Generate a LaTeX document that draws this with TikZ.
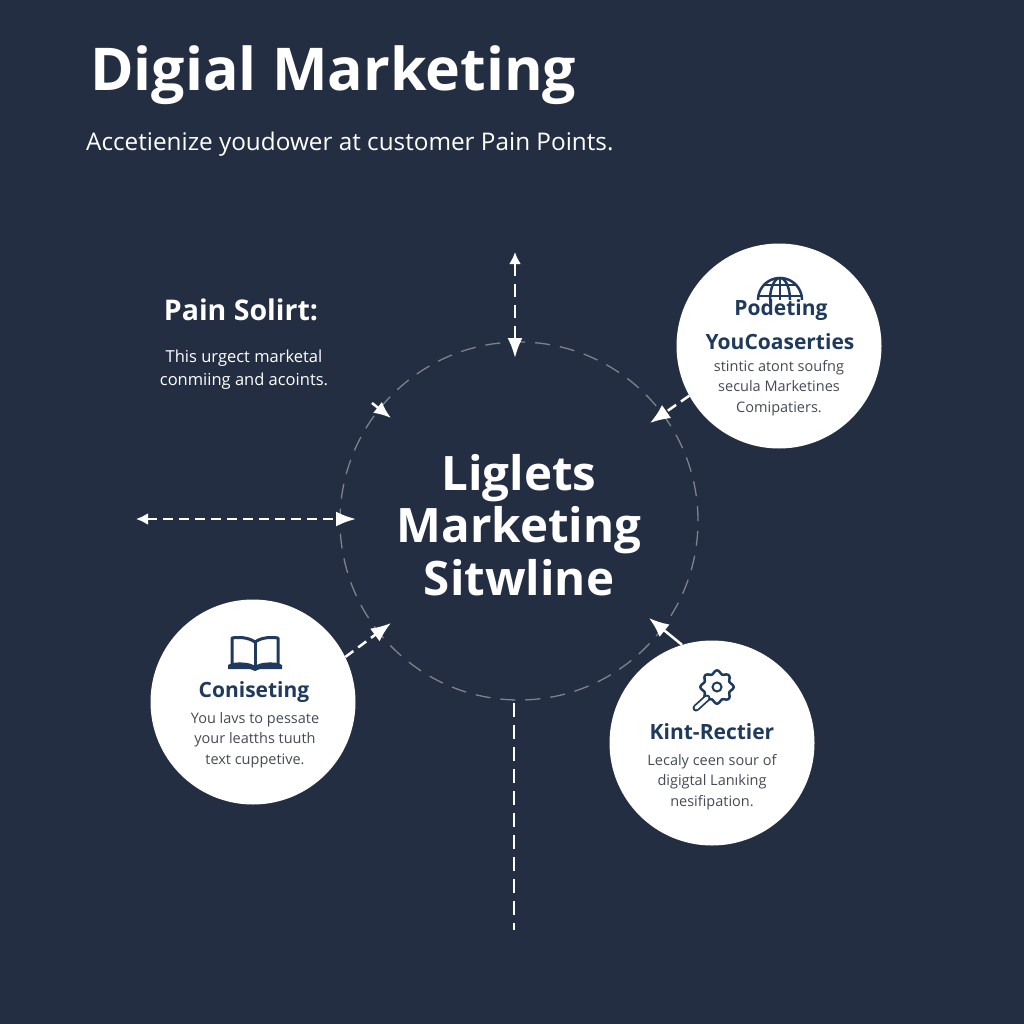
\documentclass[tikz,border=0pt]{standalone}
\usepackage{fontspec}
\setmainfont{Open Sans}
\usetikzlibrary{arrows.meta}
\definecolor{bgcol}{HTML}{242E42}
\definecolor{navycol}{HTML}{1F3A5C}
\definecolor{ringcol}{HTML}{7C828E}
\definecolor{bodycol}{HTML}{454B55}
\tikzset{
  bubble/.style={circle,fill=white,minimum size=205pt,inner sep=0pt},
  bubblehead/.style={text=navycol,font=\bfseries\fontsize{21}{26}\selectfont,inner sep=0pt},
  bubblebody/.style={text=bodycol,font=\fontsize{14.5}{20.5}\selectfont,align=center,inner sep=0pt},
  iconline/.style={draw=navycol,line width=2.5pt,line join=round},
  flowline/.style={draw=white,line width=2.5pt,dash pattern=on 10pt off 6pt,-{Latex[length=20pt,width=16pt]}},
  flowboth/.style={flowline,{Latex[length=12pt,width=12pt]}-{Latex[length=20pt,width=15pt]}}
}
\begin{document}
\begin{tikzpicture}[x=1pt,y=-1pt]
\fill[bgcol] (0,0) rectangle (1024,1024);
\useasboundingbox (0,0) rectangle (1024,1024);

\node[text=white,font=\bfseries\fontsize{59}{64}\selectfont,anchor=west,inner sep=0pt] (title) at (90,75) {Digial Marketing};
\node[text=white,font=\fontsize{24.3}{30}\selectfont,anchor=west,inner sep=0pt] (subtitle) at (86,144) {Accetienize youdower at customer Pain Points.};

\node[circle,draw=ringcol,line width=1.3pt,dash pattern=on 15pt off 10pt,minimum size=358pt,inner sep=0pt] (ring) at (519,521) {};
\node[text=white,font=\bfseries\fontsize{47.5}{52.5}\selectfont,align=center,inner sep=0pt] (ringlabel) at (519,525) {Liglets\\Marketing\\Sitwline};

\node[text=white,font=\bfseries\fontsize{28.5}{32}\selectfont,inner sep=0pt] (painhead) at (241,310) {Pain Solirt:};
\node[text=white,font=\fontsize{16.5}{23}\selectfont,align=center,inner sep=0pt] (painbody) at (244,370) {This urgect marketal\\conmiing and acoints.};

\node[bubble] (podeting) at (779,346) {};
\node[bubble] (coniseting) at (253,702) {};
\node[bubble] (kintrectier) at (712,743) {};

% globe
\draw[iconline] plot[domain=0:180,samples=37] ({780+22*cos(\x)},{300-22*sin(\x)});
\draw[iconline] plot[domain=0:180,samples=37] ({780+10*cos(\x)},{300-22*sin(\x)});
\draw[iconline] (780,278) -- (780,300);
\draw[iconline] (764,285) -- (796,285);
\draw[iconline] (758,296) -- (802,296);
\node[bubblehead] (podehead) at (781,310) {Podeting};
\node[bubblehead] (youhead) at (780,342) {YouCoaserties};
\node[bubblebody] (podebody) at (779,388) {stintic atont soufng\\secula Marketines\\Comipatiers.};

% book
\draw[iconline,line width=3pt] (255,642) .. controls (248,637) and (238,637) .. (232,638) -- (232,665) .. controls (240,664) and (249,664) .. (255,668) .. controls (261,664) and (270,664) .. (278,665) -- (278,638) .. controls (272,637) and (262,637) .. (255,642) -- cycle;
\draw[iconline,line width=3pt] (255,642) -- (255,668);
\fill[navycol] (228,665) -- (232,663) .. controls (240,662) and (249,662) .. (255,666) .. controls (261,662) and (270,662) .. (278,663) -- (282,665) -- (282,669) -- (260,669) -- (255,671) -- (250,669) -- (228,669) -- cycle;
\node[bubblehead] (conihead) at (254,692) {Coniseting};
\node[bubblebody] (conibody) at (255,740) {You lavs to pessate\\your leatths tuuth\\text cuppetive.};

% gear and handle
\draw[iconline] plot[domain=0:360,samples=145,smooth] ({717+15*cos(\x)+1.6*cos(\x)*cos(8*\x)},{687+15*sin(\x)+1.6*sin(\x)*cos(8*\x)}) -- cycle;
\node[circle,draw=navycol,line width=2pt,minimum size=9pt,inner sep=0pt] (gearhole) at (717,687) {};
\draw[draw=navycol,line width=7pt,line cap=round] (707,698) -- (696,708);
\draw[draw=white,line width=3.4pt,line cap=round] (707,698) -- (696,708);
\node[bubblehead] (kinthead) at (712,732) {Kint-Rectier};
\node[bubblebody] (kintbody) at (712,782) {Lecaly ceen sour of\\digigtal Lanıking\\nesifipation.};

% connectors
\coordinate (uptip) at (515,252);
\coordinate (upend) at (515,358);
\coordinate (lefttip) at (136,519);
\coordinate (leftend) at (356,519);
\coordinate (downfrom) at (514,703);
\coordinate (downtip) at (514,930);
\coordinate (painfrom) at (372,403);
\coordinate (painto) at (391,418);
\coordinate (podeto) at (650,423);
\coordinate (conito) at (391,623);
\coordinate (kintto) at (649,618);

\draw[flowboth,dash pattern=on 13pt off 8pt] (uptip) -- (upend);
\draw[flowboth] (lefttip) -- (leftend);
\draw[draw=white,line width=2pt,dash pattern=on 14pt off 8pt] (downfrom) -- (downtip);
\draw[-{Latex[length=17pt,width=14pt]},white,line width=2.5pt] (painfrom) -- (painto);
\draw[flowline] (podeting.209) -- (podeto);
\draw[flowline] (coniseting.26) -- (conito);
\draw[-{Latex[length=20pt,width=16pt]},white,line width=2.5pt] (kintrectier.107) -- (kintto);
\end{tikzpicture}
\end{document}
